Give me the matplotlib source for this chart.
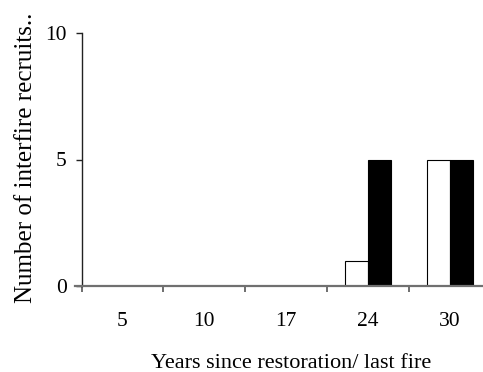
import matplotlib
matplotlib.use("Agg")
import matplotlib.pyplot as plt
from matplotlib.lines import Line2D
import numpy as np

plt.rcParams['font.family'] = ['Liberation Serif', 'DejaVu Serif']
plt.rcParams['font.size'] = 15.5

# Recruits per site age class
categories = ['5', '10', '17', '24', '30']
open_counts = [0, 0, 0, 1, 5]
filled_counts = [0, 0, 0, 5, 5]

W, H = 483, 372
fig = plt.figure(figsize=(W / 100, H / 100), dpi=100)
ax = fig.add_axes([81.5 / W, 86 / H, 409.5 / W, 253 / H])

x = np.arange(len(categories)) + 0.5
bw = 0.285
ax.bar(x - bw / 2, open_counts, width=bw, color='white', edgecolor='black', linewidth=0.8)
ax.bar(x + bw / 2, filled_counts, width=bw, color='black', edgecolor='black', linewidth=0.8)

ax.set_xlim(0, len(categories))
ax.set_ylim(0, 10)
ax.set_yticks([0, 5, 10])

# Category labels centred, tick marks on the boundaries between categories
ax.set_xticks(x)
ax.set_xticklabels(categories)
ax.set_xticks(np.arange(len(categories)), minor=True)
ax.tick_params(axis='x', which='major', length=0, pad=19)
ax.tick_params(axis='x', which='minor', length=4, width=1.2, color='#555555', direction='out')
ax.tick_params(axis='y', length=4, width=1.0, color='#222222', direction='out', pad=6.5)

for s in ['top', 'right', 'bottom']:
    ax.spines[s].set_visible(False)
ax.spines['left'].set_color('#222222')
ax.spines['left'].set_linewidth(1.0)

# Baseline extends a little past the y axis
ax.add_line(Line2D([-6.5 / 409.5, 1], [0, 0], transform=ax.transAxes,
                   color='#707070', linewidth=1.6, clip_on=False, zorder=5))

fig.text(32 / W, 1 - 157.5 / H, 'Number of interfire recruits..', rotation=90,
         rotation_mode='anchor', ha='center', va='baseline', fontsize=18)
fig.text(291 / W, 1 - 368 / H, 'Years since restoration/ last fire',
         ha='center', va='baseline', fontsize=16)

fig.savefig('out.png', dpi=100)
